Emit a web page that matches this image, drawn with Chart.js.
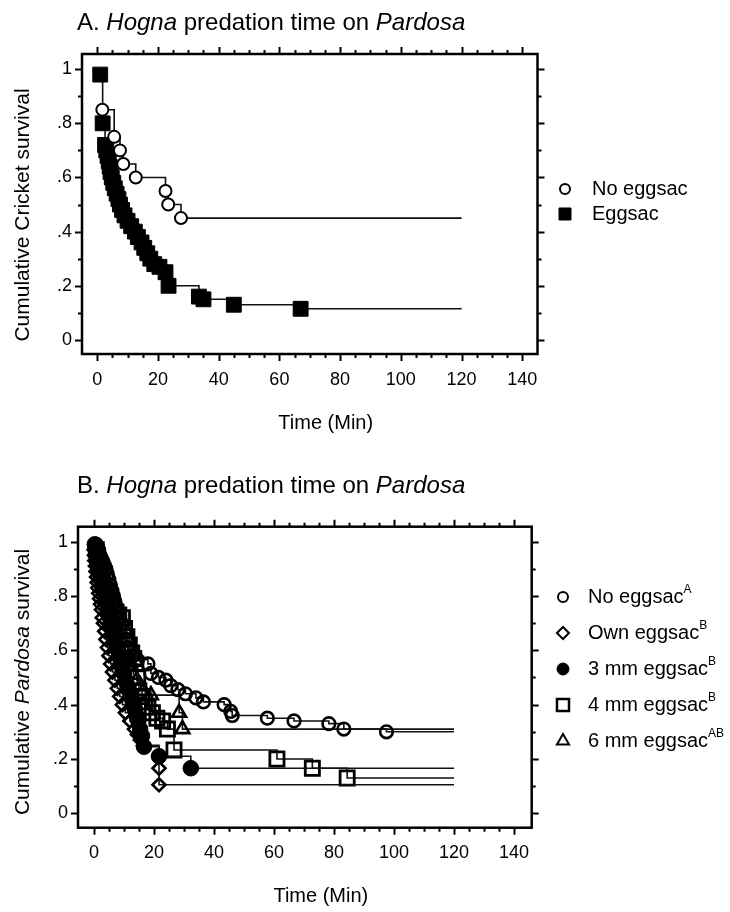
<!DOCTYPE html>
<html><head><meta charset="utf-8">
<script src="https://cdn.jsdelivr.net/npm/chart.js@4.4.1/dist/chart.umd.min.js"></script>
<style>
html,body{margin:0;padding:0;background:#fff;}
#wrap{position:relative;width:730px;height:912px;overflow:hidden;}
.panel{position:absolute;left:0;width:730px;height:456px;}
</style></head><body>
<div id="wrap">
 <div class="panel" style="top:0"><canvas id="cA" width="730" height="456"></canvas></div>
 <div class="panel" style="top:456px"><canvas id="cB" width="730" height="456"></canvas></div>
</div>
<script>
// ---------- tick labels ----------
const xTickVals = [0, 20, 40, 60, 80, 100, 120, 140];
const yTickVals = [0, 0.2, 0.4, 0.6, 0.8, 1];
const yTickLabels = ['0', '.2', '.4', '.6', '.8', '1'];
const endTime = 120;

// ---------- Panel A: cricket survival ----------
const A_noEggsac_t = [1.7, 5.6, 7.5, 8.6, 12.7, 22.5, 23.4, 27.6];
const A_noEggsac_s = [0.85, 0.75, 0.70, 0.65, 0.60, 0.55, 0.50, 0.45];
const A_eggsac_t = [1, 1.8, 2.6, 3.0, 3.4, 3.8, 4.1, 4.4, 4.8, 5.3, 5.8, 6.4, 7.0, 7.5, 8.2, 9.0, 10.0, 11.2, 12.4, 13.4, 14.6, 15.5, 16.5, 17.5, 18.8, 20.5, 22.5, 23.5, 33.5, 35, 45, 67];
const A_eggsac_s = [0.98, 0.80, 0.72, 0.70, 0.68, 0.66, 0.64, 0.62, 0.60, 0.58, 0.56, 0.54, 0.52, 0.50, 0.48, 0.46, 0.44, 0.42, 0.40, 0.38, 0.36, 0.34, 0.32, 0.30, 0.28, 0.27, 0.25, 0.20, 0.16, 0.15, 0.13, 0.115];

// ---------- Panel B: Pardosa survival ----------
const B_noEggsac_t = [0.8, 1.2, 1.6, 2, 2.4, 2.8, 3.2, 3.6, 4, 4.5, 5, 5.5, 6, 6.5, 7, 7.5, 8, 8.5, 9.2, 10, 10.6, 11.2, 12, 13, 14.5, 18, 19, 21.5, 24, 25.6, 28, 30.5, 34, 36.5, 43.4, 45.6, 46.1, 57.8, 66.7, 78.3, 83.3, 97.5];
const B_noEggsac_s = [0.99, 0.98, 0.97, 0.95, 0.94, 0.93, 0.92, 0.91, 0.90, 0.88, 0.86, 0.84, 0.82, 0.80, 0.78, 0.76, 0.74, 0.72, 0.70, 0.67, 0.64, 0.61, 0.60, 0.58, 0.565, 0.55, 0.515, 0.50, 0.49, 0.47, 0.455, 0.44, 0.425, 0.41, 0.40, 0.375, 0.36, 0.35, 0.34, 0.33, 0.31, 0.30];
const B_own_t = [0.1, 0.2, 0.3, 0.5, 0.7, 0.9, 1.1, 1.3, 1.6, 1.9, 2.2, 2.5, 2.8, 3.2, 3.6, 4, 4.5, 5, 5.6, 6.2, 7, 7.8, 8.6, 9.5, 10.5, 12, 13.5, 14.5, 15.5, 16.5, 21.7, 21.7, 21.7];
const B_own_s = [0.97, 0.95, 0.93, 0.91, 0.89, 0.87, 0.85, 0.83, 0.81, 0.79, 0.77, 0.75, 0.72, 0.70, 0.67, 0.64, 0.61, 0.58, 0.55, 0.52, 0.49, 0.46, 0.43, 0.40, 0.37, 0.34, 0.31, 0.29, 0.27, 0.25, 0.21, 0.166, 0.105];
const B_3mm_t = [0.3, 0.6, 0.9, 1.2, 1.5, 1.8, 2.1, 2.4, 2.7, 3.0, 3.3, 3.6, 3.9, 4.2, 4.6, 5.0, 5.4, 5.8, 6.2, 6.6, 7.0, 7.5, 8.0, 8.5, 9.0, 9.5, 10.0, 10.6, 11.2, 11.8, 12.4, 13.0, 13.6, 14.2, 14.8, 15.4, 16.0, 16.7, 21.7, 32.3];
const B_3mm_s = [0.99, 0.975, 0.96, 0.945, 0.93, 0.915, 0.90, 0.885, 0.87, 0.85, 0.83, 0.815, 0.80, 0.78, 0.76, 0.74, 0.72, 0.70, 0.68, 0.66, 0.64, 0.62, 0.60, 0.58, 0.555, 0.535, 0.515, 0.49, 0.47, 0.45, 0.43, 0.41, 0.385, 0.36, 0.34, 0.31, 0.285, 0.245, 0.21, 0.166];
const B_4mm_t = [0.8, 1.2, 1.8, 2.4, 3, 3.6, 4.3, 5, 5.8, 6.6, 7.4, 8.3, 9.5, 10.2, 11, 11.8, 12.6, 13.3, 14, 14.6, 15, 16, 17, 18, 19.5, 21, 22.9, 24.5, 26.7, 61, 72.8, 84.4];
const B_4mm_s = [0.97, 0.94, 0.91, 0.88, 0.85, 0.83, 0.81, 0.79, 0.77, 0.75, 0.74, 0.73, 0.72, 0.68, 0.65, 0.62, 0.59, 0.57, 0.55, 0.50, 0.45, 0.43, 0.41, 0.39, 0.37, 0.35, 0.34, 0.31, 0.233, 0.20, 0.166, 0.13];
const B_6mm_t = [1, 1.5, 2, 2.6, 3.2, 3.8, 4.5, 5.2, 6, 6.8, 7.6, 8.5, 9.4, 10.3, 11.2, 12.2, 13.2, 14.3, 15.5, 16.5, 19, 28.4, 29.5];
const B_6mm_s = [0.98, 0.96, 0.93, 0.90, 0.87, 0.84, 0.81, 0.78, 0.75, 0.72, 0.69, 0.66, 0.63, 0.60, 0.57, 0.54, 0.51, 0.49, 0.47, 0.45, 0.435, 0.37, 0.31];

// ---------- helpers ----------
const FONT = "'Liberation Sans', Arial, Helvetica, sans-serif";
function km(times, surv) {
  const pts = times.map((t, i) => ({ x: t, y: surv[i] }));
  pts.push({ x: endTime, y: surv[surv.length - 1] });
  return pts;
}
function series(label, times, surv, style) {
  return Object.assign({
    label: label,
    data: km(times, surv),
    showLine: true,
    stepped: 'before',
    borderColor: '#111',
    borderWidth: 1.6,
    pointBorderColor: '#000',
    pointRadius: (c) => c.dataIndex === c.dataset.data.length - 1 ? 0 : style.r,
    pointHoverRadius: 0,
    fill: false
  }, style.ds);
}

function drawRich(ctx, parts, x, y, size, align) {
  const widths = parts.map(p => {
    const fs = p[2] ? Math.round(size * 0.62) : size;
    ctx.font = (p[1] ? 'italic ' : '') + fs + 'px ' + FONT;
    return ctx.measureText(p[0]).width;
  });
  const total = widths.reduce((a, b) => a + b, 0);
  let cx = align === 'center' ? x - total / 2 : x;
  parts.forEach((p, i) => {
    const fs = p[2] ? Math.round(size * 0.62) : size;
    ctx.font = (p[1] ? 'italic ' : '') + fs + 'px ' + FONT;
    ctx.textAlign = 'left';
    ctx.fillText(p[0], cx, p[2] ? y - size * 0.38 : y);
    cx += widths[i];
  });
}

function marker(ctx, style, x, y) {
  ctx.save();
  ctx.fillStyle = style.fill;
  ctx.strokeStyle = '#000';
  ctx.lineWidth = style.bw;
  if (Chart.helpers && Chart.helpers.drawPoint) {
    Chart.helpers.drawPoint(ctx, { pointStyle: style.ps, radius: style.r, borderWidth: style.bw, rotation: 0 }, x, y);
  }
  ctx.restore();
}

const decor = {
  id: 'decor',
  afterDraw(chart, args, o) {
    const ctx = chart.ctx, a = chart.chartArea;
    const xs = chart.scales.x, ys = chart.scales.y;
    ctx.save();
    ctx.strokeStyle = '#000';
    ctx.lineWidth = 2;
    ctx.beginPath();
    for (let v = 0; v <= 140; v += 5) {
      const px = Math.round(xs.getPixelForValue(v)) + 0.5;
      const L = v % 20 === 0 ? 7 : 4;
      ctx.moveTo(px, a.bottom); ctx.lineTo(px, a.bottom + L);
      ctx.moveTo(px, a.top); ctx.lineTo(px, a.top - L);
    }
    for (let k = 0; k <= 10; k++) {
      const py = Math.round(ys.getPixelForValue(k / 10)) + 0.5;
      const L = k % 2 === 0 ? 7 : 4;
      ctx.moveTo(a.left, py); ctx.lineTo(a.left - L, py);
      ctx.moveTo(a.right, py); ctx.lineTo(a.right + L, py);
    }
    ctx.stroke();
    ctx.lineWidth = 2.5;
    ctx.strokeRect(a.left, a.top, a.right - a.left, a.bottom - a.top);

    ctx.fillStyle = '#000';
    ctx.textBaseline = 'alphabetic';
    drawRich(ctx, o.title, o.titleX, o.titleY, 24, 'left');
    ctx.textBaseline = 'middle';
    drawRich(ctx, [['Time (Min)', false, false]], (a.left + a.right) / 2 + 16, a.bottom + 69, 20, 'center');
    ctx.save();
    ctx.translate(23, o.yTitleY);
    ctx.rotate(-Math.PI / 2);
    drawRich(ctx, o.yTitle, 0, 0, 21, 'center');
    ctx.restore();
    o.legend.forEach((it, i) => {
      const y = o.legY[i];
      marker(ctx, it.m, o.legMX, y);
      ctx.fillStyle = '#000';
      ctx.textBaseline = 'middle';
      drawRich(ctx, it.text, o.legTX, y, 20, 'left');
    });
    ctx.restore();
  }
};

function scales(xMin, xMax, yMin, yMax, yW, xH) {
  const hiddenGrid = { display: true, drawOnChartArea: false, drawTicks: true, tickLength: 7, color: 'rgba(0,0,0,0)' };
  return {
    x: {
      type: 'linear', min: xMin, max: xMax,
      afterBuildTicks: s => { s.ticks = xTickVals.map(v => ({ value: v })); },
      afterFit: s => { s.height = xH; },
      grid: hiddenGrid, border: { display: false },
      ticks: { color: '#000', font: { family: FONT, size: 18 }, padding: 8, maxRotation: 0, autoSkip: false }
    },
    y: {
      type: 'linear', min: yMin, max: yMax,
      afterBuildTicks: s => { s.ticks = yTickVals.map(v => ({ value: v })); },
      afterFit: s => { s.width = yW; },
      grid: hiddenGrid, border: { display: false },
      ticks: { color: '#000', font: { family: FONT, size: 18 }, padding: 3, autoSkip: false,
        callback: v => { const i = yTickVals.findIndex(t => Math.abs(t - v) < 1e-6); return i >= 0 ? yTickLabels[i] : ''; } }
    }
  };
}

const CLEAR = 'rgba(255,255,255,0)';
const mOpenCircleA = { ps: 'circle', r: 6, bw: 2, fill: '#fff' };
const mSquareA = { ps: 'rect', r: 10.5, bw: 1, fill: '#000' };
const mOpenCircleB = { ps: 'circle', r: 6.3, bw: 2.6, fill: CLEAR };
const mDiamondB = { ps: 'rectRot', r: 6.5, bw: 2.6, fill: CLEAR };
const mFilledB = { ps: 'circle', r: 7.8, bw: 1, fill: '#000' };
const mSquareB = { ps: 'rect', r: 10, bw: 2.8, fill: CLEAR };
const mTriB = { ps: 'triangle', r: 8, bw: 2.6, fill: CLEAR };

function ds(label, t, s, m) {
  return series(label, t, s, { r: m.r, ds: { pointStyle: m.ps, pointBorderWidth: m.bw, pointBackgroundColor: m.fill } });
}

new Chart(document.getElementById('cA'), {
  type: 'scatter',
  data: { datasets: [
    ds('No eggsac', A_noEggsac_t, A_noEggsac_s, mOpenCircleA),
    ds('Eggsac', A_eggsac_t, A_eggsac_s, mSquareA)
  ] },
  options: {
    responsive: false, animation: false, events: [],
    layout: { padding: { left: 0, right: 730 - 537.5, top: 54, bottom: 0 } },
    scales: scales(-5, 145, -0.052, 1.056, 82, 456 - 354),
    plugins: {
      legend: { display: false }, tooltip: { enabled: false },
      decor: {
        title: [['A. ', false], ['Hogna', true], [' predation time on ', false], ['Pardosa', true]],
        titleX: 77, titleY: 30, yTitleY: 215,
        yTitle: [['Cumulative Cricket survival', false]],
        legend: [
          { m: { ps: 'circle', r: 5, bw: 2, fill: '#fff' }, text: [['No eggsac', false]] },
          { m: { ps: 'rect', r: 8.5, bw: 1, fill: '#000' }, text: [['Eggsac', false]] }
        ],
        legMX: 565, legTX: 592, legY: [189, 214]
      }
    }
  },
  plugins: [decor]
});

// dataset 0 is painted last (on top): the filled 3 mm markers form the dark mass
new Chart(document.getElementById('cB'), {
  type: 'scatter',
  data: { datasets: [
    ds('3 mm eggsac', B_3mm_t, B_3mm_s, mFilledB),
    ds('No eggsac', B_noEggsac_t, B_noEggsac_s, mOpenCircleB),
    ds('Own eggsac', B_own_t, B_own_s, mDiamondB),
    ds('4 mm eggsac', B_4mm_t, B_4mm_s, mSquareB),
    ds('6 mm eggsac', B_6mm_t, B_6mm_s, mTriB)
  ] },
  options: {
    responsive: false, animation: false, events: [],
    layout: { padding: { left: 0, right: 730 - 531.7, top: 70.7, bottom: 0 } },
    scales: scales(-5.3, 145.9, -0.053, 1.055, 78, 456 - 371.7),
    plugins: {
      legend: { display: false }, tooltip: { enabled: false },
      decor: {
        title: [['B. ', false], ['Hogna', true], [' predation time on ', false], ['Pardosa', true]],
        titleX: 77, titleY: 37, yTitleY: 226,
        yTitle: [['Cumulative ', false], ['Pardosa', true], [' survival', false]],
        legend: [
          { m: { ps: 'circle', r: 5, bw: 2, fill: '#fff' }, text: [['No eggsac', false], ['A', false, true]] },
          { m: { ps: 'rectRot', r: 6, bw: 2, fill: '#fff' }, text: [['Own eggsac', false], ['B', false, true]] },
          { m: { ps: 'circle', r: 6, bw: 1, fill: '#000' }, text: [['3 mm eggsac', false], ['B', false, true]] },
          { m: { ps: 'rect', r: 8.5, bw: 2.5, fill: '#fff' }, text: [['4 mm eggsac', false], ['B', false, true]] },
          { m: { ps: 'triangle', r: 7, bw: 2, fill: '#fff' }, text: [['6 mm eggsac', false], ['AB', false, true]] }
        ],
        legMX: 563, legTX: 588, legY: [141, 177, 213, 249, 285]
      }
    }
  },
  plugins: [decor]
});
</script>
</body></html>
